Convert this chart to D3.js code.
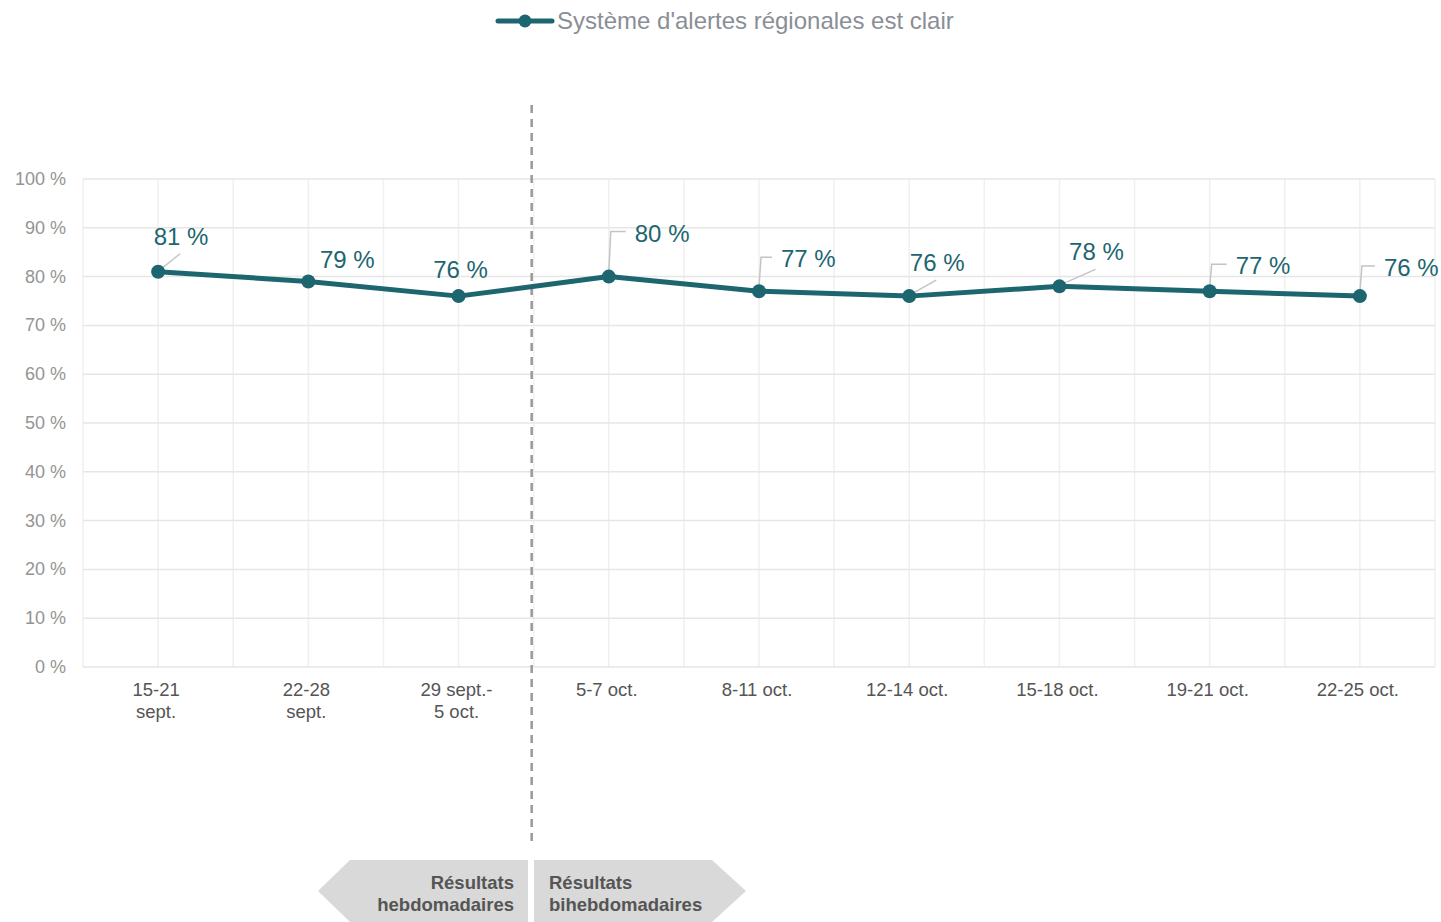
<!DOCTYPE html>
<html>
<head>
<meta charset="utf-8">
<script src="https://cdn.jsdelivr.net/npm/d3@7"></script>
<style>
  body { margin: 0; background: #fff; }
  text { font-family: "Liberation Sans", Arial, sans-serif; }
</style>
</head>
<body>
<svg id="chart"></svg>
<script>
// data
const periods = [
  ['15-21', 'sept.'], ['22-28', 'sept.'], ['29 sept.-', '5 oct.'],
  ['5-7 oct.'], ['8-11 oct.'], ['12-14 oct.'], ['15-18 oct.'], ['19-21 oct.'], ['22-25 oct.']
]
const values = [81, 79, 76, 80, 77, 76, 78, 77, 76]
const seriesName = "Système d'alertes régionales est clair"
const yTicks = [0, 10, 20, 30, 40, 50, 60, 70, 80, 90, 100]

// label placement: [leader type, dx, dy]
const labelPos = [
  ['diag', 23, -27], ['none', 39, -13], ['none', 2, -18],
  ['elbow', 26, -45], ['elbow', 22, -34], ['diag', 28, -25],
  ['diag', 37, -26], ['elbow', 26, -27], ['elbow', 24, -30]
]

const width = 1441, height = 922
const margin = { top: 179, right: 6, bottom: 255, left: 83 }
const teal = '#1d6670'

const svg = d3.select('#chart')
  .attr('width', width)
  .attr('height', height)

const x = d3.scaleBand()
  .domain(d3.range(periods.length))
  .range([margin.left, width - margin.right])

const y = d3.scaleLinear()
  .domain([0, 100])
  .range([height - margin.bottom, margin.top])

const cx = i => x(i) + x.bandwidth() / 2

// grid
const grid = svg.append('g')
const vLines = []
periods.forEach((p, i) => { vLines.push(x(i)); vLines.push(cx(i)) })
vLines.push(width - margin.right)
grid.selectAll('line.v')
  .data(vLines)
  .enter().append('line')
  .attr('x1', d => d).attr('x2', d => d)
  .attr('y1', y(100)).attr('y2', y(0))
  .attr('stroke', '#f0f0f0')
  .attr('stroke-width', 1.5)
grid.selectAll('line.h')
  .data(yTicks)
  .enter().append('line')
  .attr('x1', margin.left).attr('x2', width - margin.right)
  .attr('y1', d => y(d)).attr('y2', d => y(d))
  .attr('stroke', '#e6e6e6')
  .attr('stroke-width', 1.5)

// y labels
svg.append('g').selectAll('text')
  .data(yTicks)
  .enter().append('text')
  .attr('x', 66)
  .attr('y', d => y(d) + 6)
  .attr('text-anchor', 'end')
  .attr('font-size', 18)
  .attr('fill', '#949494')
  .text(d => d + ' %')

// x labels
const xl = svg.append('g').selectAll('text')
  .data(periods)
  .enter().append('text')
  .attr('text-anchor', 'middle')
  .attr('font-size', 18.5)
  .attr('fill', '#555')
  .attr('x', (d, i) => cx(i) - 2)
  .attr('y', 696)
xl.selectAll('tspan')
  .data(d => d)
  .enter().append('tspan')
  .attr('x', function () { return d3.select(this.parentNode).attr('x') })
  .attr('dy', (d, i) => i === 0 ? 0 : 22)
  .text(d => d)

// separator
const sepX = (x(2) + x.bandwidth() + x(3)) / 2 - 2
svg.append('line')
  .attr('x1', sepX).attr('x2', sepX)
  .attr('y1', 105).attr('y2', 845)
  .attr('stroke', '#999')
  .attr('stroke-width', 2.5)
  .attr('stroke-dasharray', '8,6')

// line
const line = d3.line()
  .x((d, i) => cx(i))
  .y(d => y(d))
svg.append('path')
  .datum(values)
  .attr('d', line)
  .attr('fill', 'none')
  .attr('stroke', teal)
  .attr('stroke-width', 5)
  .attr('stroke-linejoin', 'round')

// leaders + labels
const lab = svg.append('g')
values.forEach((v, i) => {
  const px = cx(i), py = y(v)
  const [type, dx, dy] = labelPos[i]
  if (type === 'diag') {
    lab.append('line')
      .attr('x1', px + 2).attr('y1', py - 2)
      .attr('x2', px + dx - 1).attr('y2', py + dy + 9)
      .attr('stroke', '#c4c4c4').attr('stroke-width', 1.5)
    lab.append('text')
      .attr('x', px + dx).attr('y', py + dy)
      .attr('text-anchor', 'middle')
      .attr('font-size', 24).attr('fill', teal)
      .text(v + ' %')
  } else if (type === 'elbow') {
    lab.append('path')
      .attr('d', `M${px},${py - 4}L${px + 2},${py + dy}L${px + dx - 9},${py + dy}`)
      .attr('fill', 'none')
      .attr('stroke', '#c4c4c4').attr('stroke-width', 1.5)
    lab.append('text')
      .attr('x', px + dx).attr('y', py + dy + 10)
      .attr('text-anchor', 'start')
      .attr('font-size', 24).attr('fill', teal)
      .text(v + ' %')
  } else {
    lab.append('text')
      .attr('x', px + dx).attr('y', py + dy)
      .attr('text-anchor', 'middle')
      .attr('font-size', 24).attr('fill', teal)
      .text(v + ' %')
  }
})

// dots
svg.append('g').selectAll('circle')
  .data(values)
  .enter().append('circle')
  .attr('cx', (d, i) => cx(i))
  .attr('cy', d => y(d))
  .attr('r', 7)
  .attr('fill', teal)

// legend
const lg = svg.append('g')
lg.append('line')
  .attr('x1', 498).attr('x2', 552).attr('y1', 21).attr('y2', 21)
  .attr('stroke', teal).attr('stroke-width', 5).attr('stroke-linecap', 'round')
lg.append('circle').attr('cx', 525).attr('cy', 21).attr('r', 6.5).attr('fill', teal)
lg.append('text')
  .attr('x', 557).attr('y', 29)
  .attr('font-size', 24).attr('fill', '#8a8e96')
  .text(seriesName)

// bottom arrows
const arrows = svg.append('g')
arrows.append('path')
  .attr('d', 'M318,891L350,860L528,860L528,922L350,922Z')
  .attr('fill', '#d9d9d9')
arrows.append('path')
  .attr('d', 'M534,860L712,860L746,891L712,922L534,922Z')
  .attr('fill', '#d9d9d9')
const arrowText = [
  { x: 514, anchor: 'end', lines: ['Résultats', 'hebdomadaires'] },
  { x: 549, anchor: 'start', lines: ['Résultats', 'bihebdomadaires'] }
]
arrowText.forEach(a => {
  const t = arrows.append('text')
    .attr('text-anchor', a.anchor)
    .attr('font-size', 18.5).attr('font-weight', 'bold').attr('fill', '#555')
  a.lines.forEach((s, i) => {
    t.append('tspan').attr('x', a.x).attr('y', 889 + i * 22).text(s)
  })
})
</script>
</body>
</html>
